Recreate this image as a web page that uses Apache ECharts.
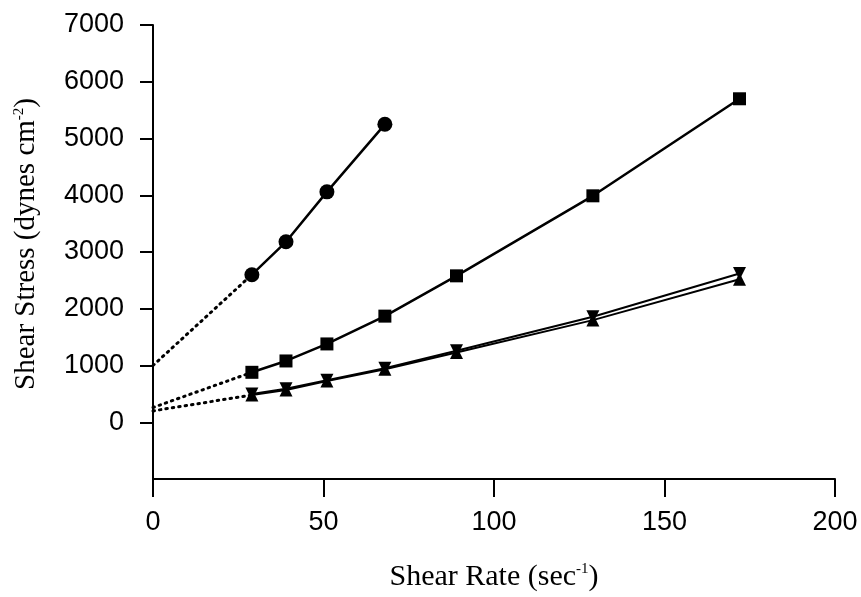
<!DOCTYPE html>
<html>
<head>
<meta charset="utf-8">
<script src="https://cdn.jsdelivr.net/npm/echarts@6/dist/echarts.min.js"></script>
<style>
  html, body { margin: 0; padding: 0; background: #fff; }
  #chart { width: 861px; height: 597px; }
</style>
</head>
<body>
<div id="chart"></div>
<script>
// shear rate (sec-1) for each reading
var rates = [29, 39, 51, 68, 89, 129, 172];
var circleVals = [2600, 3180, 4060, 5250];
var squareVals = [880, 1080, 1380, 1870, 2580, 3990, 5700];
var triUpVals = [480, 570, 725, 935, 1230, 1800, 2520];
var triDownVals = [500, 590, 740, 950, 1260, 1860, 2620];
// dotted extrapolation back to the y axis
var circleIntercept = 1000;
var squareIntercept = 260;
var triIntercept = 200;
var yTicks = [0, 1000, 2000, 3000, 4000, 5000, 6000, 7000];

function pairs(xs, ys) {
    return ys.map(function (v, i) { return [xs[i], v]; });
}

var chart = echarts.init(document.getElementById('chart'));

var solid = { color: '#000', width: 2.5 };
var dotted = { color: '#000', width: 3, type: [1.5, 5], cap: 'round' };
var supStyle = { fontSize: 15, fontFamily: 'Liberation Serif', color: '#000', verticalAlign: 'top', lineHeight: 14 };

var option = {
    backgroundColor: '#fff',
    animation: false,
    grid: { left: 153, right: 26, top: 25, bottom: 115 },
    xAxis: {
        type: 'value',
        min: 0,
        max: 200,
        interval: 50,
        splitLine: { show: false },
        axisLine: { onZero: false, lineStyle: { color: '#000', width: 2 } },
        axisTick: { length: 18, lineStyle: { color: '#000', width: 2 } },
        axisLabel: { color: '#000', fontSize: 27, fontFamily: 'Liberation Sans', margin: 30 },
        name: 'Shear Rate (sec{sup|-1})',
        nameLocation: 'middle',
        nameGap: 83,
        nameTextStyle: {
            color: '#000', fontSize: 30, fontFamily: 'Liberation Serif',
            rich: { sup: supStyle }
        }
    },
    yAxis: {
        type: 'value',
        min: -1000,
        max: 7000,
        interval: 1000,
        splitLine: { show: false },
        axisLine: { lineStyle: { color: '#000', width: 2 } },
        axisTick: { length: 13, customValues: yTicks, lineStyle: { color: '#000', width: 2 } },
        axisLabel: {
            color: '#000', fontSize: 27, fontFamily: 'Liberation Sans', margin: 29,
            customValues: yTicks,
            formatter: function (v) { return String(v); }
        },
        name: 'Shear Stress (dynes cm{sup|-2})',
        nameLocation: 'middle',
        nameGap: 112,
        nameTextStyle: {
            color: '#000', fontSize: 29, fontFamily: 'Liberation Serif',
            padding: [0, 0, 0, 16],
            rich: { sup: supStyle }
        }
    },
    series: [
        {
            type: 'line', data: [[0, circleIntercept], [rates[0], circleVals[0]]],
            symbol: 'none', lineStyle: dotted
        },
        {
            type: 'line', data: [[0, squareIntercept], [rates[0], squareVals[0]]],
            symbol: 'none', lineStyle: dotted
        },
        {
            type: 'line', data: [[0, triIntercept], [rates[0], triUpVals[0]]],
            symbol: 'none', lineStyle: dotted
        },
        {
            type: 'line', data: pairs(rates, circleVals),
            symbol: 'circle', symbolSize: 15,
            itemStyle: { color: '#000' }, lineStyle: solid
        },
        {
            type: 'line', data: pairs(rates, squareVals),
            symbol: 'rect', symbolSize: 13,
            itemStyle: { color: '#000' }, lineStyle: solid
        },
        {
            type: 'line', data: pairs(rates, triUpVals),
            symbol: 'triangle', symbolSize: 13,
            itemStyle: { color: '#000' }, lineStyle: { color: '#000', width: 2 }
        },
        {
            type: 'line', data: pairs(rates, triDownVals),
            symbol: 'triangle', symbolRotate: 180, symbolSize: 13,
            itemStyle: { color: '#000' }, lineStyle: { color: '#000', width: 2 }
        }
    ]
};

chart.setOption(option);
window.onresize = function () {
    chart.resize();
};
</script>
</body>
</html>
